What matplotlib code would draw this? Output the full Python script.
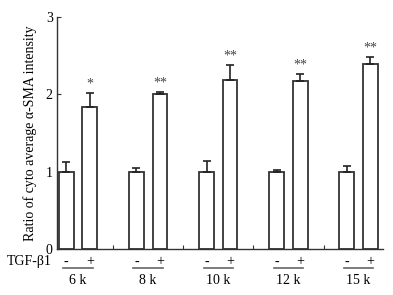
import numpy as np
import matplotlib
matplotlib.use("Agg")
import matplotlib.pyplot as plt

plt.rcParams['font.family'] = ['Liberation Serif', 'DejaVu Serif']

groups = ['6 k', '8 k', '10 k', '12 k', '15 k']
ctrl = [1.0, 1.0, 1.0, 1.0, 1.0]
ctrl_err = [0.13, 0.05, 0.14, 0.02, 0.08]
tgf = [1.84, 2.0, 2.19, 2.17, 2.39]
tgf_err = [0.18, 0.03, 0.19, 0.10, 0.09]
stars = ['*', '**', '**', '**', '**']

fig = plt.figure(figsize=(3.93, 2.95), dpi=100)
ax = fig.add_axes([0.145, 0.156, 0.83, 0.786])

x = np.arange(len(groups))
off = 0.168
w = 0.21
ec = '#333333'
ekw = dict(ecolor='#222222', elinewidth=1.2, capsize=3, capthick=1.2)
ax.bar(x - off, ctrl, w, color='white', edgecolor=ec, linewidth=1.3,
       yerr=[np.zeros(5), ctrl_err], error_kw=ekw)
ax.bar(x + off, tgf, w, color='white', edgecolor=ec, linewidth=1.3,
       yerr=[np.zeros(5), tgf_err], error_kw=ekw)

for i in range(len(groups)):
    top = tgf[i] + tgf_err[i]
    ax.text(x[i] + off, top + 0.03, stars[i], ha='center', va='bottom', fontsize=10, color='#444444')

ax.set_xlim(-0.30, 4.35)
ax.set_ylim(0, 3)
ax.set_yticks([0, 1, 2, 3])
ax.tick_params(axis='y', direction='in', length=3, labelsize=10, pad=3, color='#333333')
ax.set_xticks(x[:-1] + 0.5)
ax.set_xticklabels([])
ax.tick_params(axis='x', direction='in', length=3, color='#333333')
for s in ['top', 'right']:
    ax.spines[s].set_visible(False)
for s in ['left', 'bottom']:
    ax.spines[s].set_color('#333333')
    ax.spines[s].set_linewidth(1.0)

ax.set_ylabel('Ratio of cyto average α-SMA intensity', fontsize=10, labelpad=6)

# treatment labels under the axis
trans = ax.get_xaxis_transform()
for i in range(len(groups)):
    ax.text(x[i] - off, -0.056, '-', transform=trans, ha='center', va='center', fontsize=10)
    ax.text(x[i] + off, -0.056, '+', transform=trans, ha='center', va='center', fontsize=10)
    ax.plot([x[i] - 0.21, x[i] + 0.21], [-0.083, -0.083], transform=trans,
            color='#666666', linewidth=1.2, clip_on=False)
    ax.text(x[i], -0.138, groups[i], transform=trans, ha='center', va='center', fontsize=10)
ax.text(-0.015, -0.056, 'TGF-β1', transform=ax.transAxes, ha='right', va='center', fontsize=10)

fig.savefig('out.png', dpi=100)
